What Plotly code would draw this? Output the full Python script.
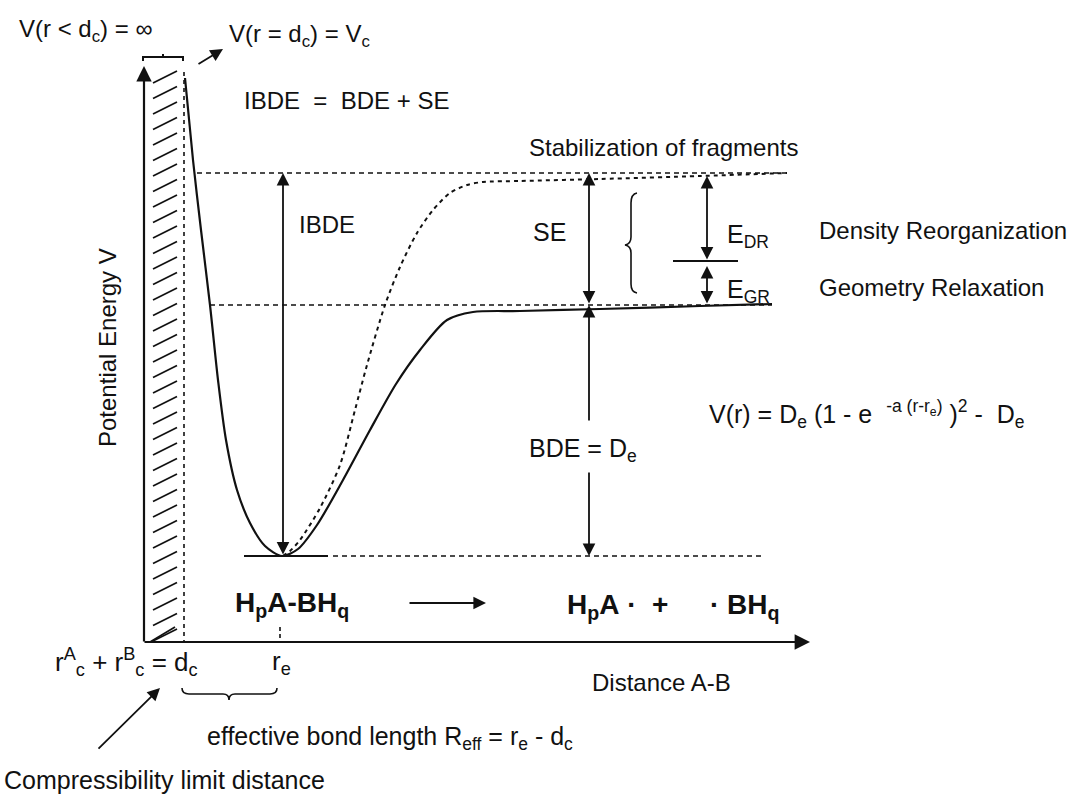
import numpy as np
import plotly.graph_objects as go

# ---- diagram data (r = distance A-B, V = potential energy; screen units, V grows downward) ----
# bound Morse-type curve H_pA-BH_q
bound_r = [185, 193, 201, 210, 218, 226, 237, 250, 265, 282, 298, 317, 343, 370,
           396, 420, 447, 473, 520, 600, 700, 772]
bound_V = [78, 160, 230, 305, 380, 440, 490, 523, 546, 556, 549, 525, 480, 430,
           384, 350, 320, 312, 311, 309, 306, 304]

# curve leading to the stabilized fragments (dashed)
frag_r = [283, 290, 300, 320, 340, 355, 367, 385, 400, 417, 433, 450, 467, 483,
          520, 600, 700, 787]
frag_V = [556, 551, 540, 508, 465, 410, 365, 305, 267, 233, 210, 193, 185, 182,
          181, 179, 176, 173]

# characteristic distances and energy levels
r_origin = 144     # axis origin
d_c = 184          # compressibility limit distance
r_e = 280          # equilibrium distance
V_min = 556        # bottom of the well
V_bde = 305        # dissociation limit of the bound curve
V_ibde = 173       # level of the stabilized fragments
V_split = 261      # split between density reorganization and geometry relaxation
V_axis = 642       # distance axis

FONT = "Liberation Sans, Arial, Helvetica, sans-serif"
INK = "#111111"

fig = go.Figure()

# hatched forbidden region r < d_c
hx, hy = [], []
for y0 in np.arange(83, V_axis + 1, 15.5):
    hx += [153, 177, None]
    hy += [y0, y0 - 12, None]
hx += [150, 175, None]
hy += [V_axis, V_axis - 15, None]
fig.add_trace(go.Scatter(x=hx, y=hy, mode="lines", line=dict(color=INK, width=1.7),
                         hoverinfo="skip", showlegend=False))

# potential curves
fig.add_trace(go.Scatter(x=bound_r, y=bound_V, mode="lines",
                         line=dict(color=INK, width=2.2, shape="spline", smoothing=0.8),
                         hoverinfo="skip", showlegend=False))
fig.add_trace(go.Scatter(x=frag_r, y=frag_V, mode="lines",
                         line=dict(color=INK, width=2, dash="4px,4px", shape="spline", smoothing=0.8),
                         hoverinfo="skip", showlegend=False))


def hline(x0, x1, y, dash=None, width=1.8):
    fig.add_shape(type="line", x0=x0, x1=x1, y0=y, y1=y, xref="x", yref="y",
                  line=dict(color=INK, width=width, dash=dash))


def vline(x, y0, y1, dash=None, width=1.8):
    fig.add_shape(type="line", x0=x, x1=x, y0=y0, y1=y1, xref="x", yref="y",
                  line=dict(color=INK, width=width, dash=dash))


def arrow(x0, y0, x1, y1, both=False, width=1.8):
    fig.add_annotation(x=x1, y=y1, ax=x0, ay=y0, xref="x", yref="y", axref="x", ayref="y",
                       text="", showarrow=True, arrowhead=2, arrowsize=1.4,
                       arrowwidth=width, arrowcolor=INK, standoff=0, startstandoff=0,
                       arrowside="end+start" if both else "end",
                       startarrowhead=2, startarrowsize=1.4)


def text(x, y, s, size=24, xanchor="left", bold=False, angle=0):
    fig.add_annotation(x=x, y=y, xref="x", yref="y", text=f"<b>{s}</b>" if bold else s,
                       showarrow=False, xanchor=xanchor, yanchor="middle", textangle=angle,
                       font=dict(family=FONT, size=size, color=INK))


# energy levels
hline(197, 787, V_ibde, dash="5px,4px", width=1.6)
hline(210, 772, V_bde, dash="5px,4px", width=1.6)
hline(244, 328, V_min, width=2)
hline(333, 765, V_min, dash="5px,4px", width=1.6)
hline(673, 738, V_split, width=2)

# d_c and r_e markers
vline(d_c, 72, V_axis, dash="4px,4px", width=1.6)
vline(r_e, 627, V_axis, dash="4px,3px", width=1.6)

# axes
arrow(r_origin, V_axis + 1, r_origin, 66, width=2.2)
arrow(r_origin - 1, V_axis, 810, V_axis, width=2.2)

# energy arrows
arrow(283, V_min, 283, V_ibde, both=True)
arrow(589, V_bde, 589, V_ibde, both=True)
arrow(589, 422, 589, V_bde)
arrow(589, 471, 589, V_min)
arrow(707, V_split, 707, V_ibde + 3, both=True)
arrow(707, V_bde, 707, V_split + 5, both=True)

# reaction arrow and pointer arrows
arrow(408, 603, 486, 603)
arrow(197, 65, 223, 49)
arrow(97, 750, 160, 688)

# bracket over the hatched region
fig.add_shape(type="path", xref="x", yref="y",
              path="M 143 61 L 143 57 L 183 57 L 183 61 M 163 57 L 163 54",
              line=dict(color=INK, width=2))
# curly brace grouping E_DR and E_GR
fig.add_shape(type="path", xref="x", yref="y",
              path="M 637 193 Q 631 194 631 203 L 631 237 Q 631 244 625 245 "
                   "Q 631 246 631 253 L 631 284 Q 631 292 637 293",
              line=dict(color=INK, width=1.6))
# brace under the effective bond length
fig.add_shape(type="path", xref="x", yref="y",
              path="M 182 688 Q 182 694 189 694 L 223 694 Q 229 694 229 700 "
                   "Q 229 694 235 694 L 270 694 Q 277 694 277 688",
              line=dict(color=INK, width=1.6))

# labels
text(17, 30, "V(r &lt; d<sub>c</sub>) = ∞")
text(227, 35, "V(r = d<sub>c</sub>) = V<sub>c</sub>")
text(242, 100, "IBDE \u00a0=\u00a0 BDE + SE")
text(527, 147, "Stabilization of fragments")
text(297, 224, "IBDE")
text(531, 232, "SE", size=25)
text(725, 236, "E<sub>DR</sub>", size=25)
text(725, 291, "E<sub>GR</sub>", size=25)
text(817, 230, "Density Reorganization")
text(817, 287, "Geometry Relaxation")
text(707, 414, "V(r) = D<sub>e</sub> (1 - e \u00a0<sup>-a (r-r<sub>e</sub>)</sup> )<sup>2</sup> - \u00a0D<sub>e</sub>", size=25)
text(527, 450, "BDE = D<sub>e</sub>", size=25)
text(233, 604, "H<sub>p</sub>A-BH<sub>q</sub>", size=28, bold=True)
text(565, 606, "H<sub>p</sub>A\u00a0·\u00a0\u00a0+", size=28, bold=True)
text(708, 606, "· BH<sub>q</sub>", size=28, bold=True)
text(107, 348, "Potential Energy V", xanchor="center", angle=-90)
text(53, 662, "r<sup>A</sup><sub>c</sub> + r<sup>B</sup><sub>c</sub> = d<sub>c</sub>", size=26)
text(270, 662, "r<sub>e</sub>", size=26)
text(590, 682, "Distance A-B")
text(205, 738, "effective bond length R<sub>eff</sub> = r<sub>e</sub> - d<sub>c</sub>", size=25)
text(2, 780, "Compressibility limit distance", size=25)

fig.update_layout(
    width=1074, height=794,
    margin=dict(l=0, r=0, t=0, b=0),
    paper_bgcolor="white", plot_bgcolor="white",
    xaxis=dict(range=[0, 1074], visible=False, fixedrange=True),
    yaxis=dict(range=[794, 0], visible=False, fixedrange=True),
    showlegend=False,
)

fig.write_html("out.html")
